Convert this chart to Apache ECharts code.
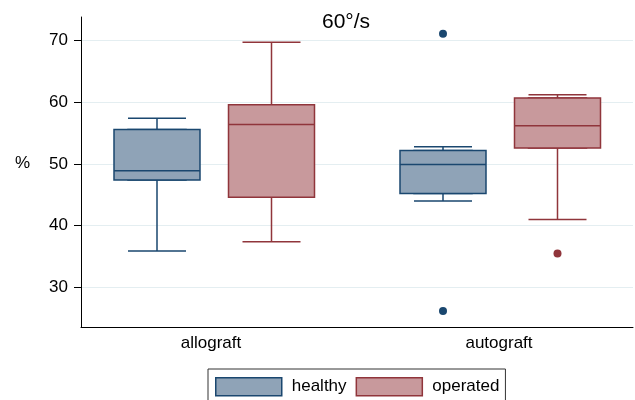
<!DOCTYPE html>
<html>
<head>
<meta charset="utf-8">
<script src="https://cdn.jsdelivr.net/npm/echarts@6/dist/echarts.min.js"></script>
<style>html,body{margin:0;padding:0;background:#fff}#c{width:635px;height:400px}</style>
</head>
<body>
<div id="c"></div>
<script>
// ---- data ----
const categories = ['allograft', 'autograft'];
// [min, Q1, median, Q3, max] per category
const healthy = [
  [35.9, 47.4, 48.9, 55.6, 57.4],
  [44.0, 45.2, 49.9, 52.2, 52.8]
];
const operated = [
  [37.4, 44.6, 56.4, 59.6, 69.7],
  [41.0, 52.6, 56.2, 60.7, 61.2]
];
const healthyOutliers = [['autograft', 71.1], ['autograft', 26.2]];
const operatedOutliers = [['autograft', 35.5]];
const yTicks = [30, 40, 50, 60, 70];
const seriesNames = ['healthy', 'operated'];
const titleText = '60°/s';
const yName = '%';

// ---- style ----
const FONT = 'Liberation Sans, Arial, sans-serif';
const navy = '#1a476f', navyFill = '#8fa3b7';
const maroon = '#90353b', maroonFill = '#c8999c';
const yMin = 23.6, yMax = 73.8;
const TOP = 17, BOTTOM = 73;

// box only (whiskers collapsed onto the box edges)
const boxOnly = d => d.map(v => [v[1], v[1], v[2], v[3], v[3]]);

const hiddenY = gi => ({ gridIndex: gi, type: 'value', min: yMin, max: yMax, show: false });
const hiddenX = gi => ({ gridIndex: gi, type: 'category', data: categories, boundaryGap: false, show: false });

const chart = echarts.init(document.getElementById('c'), null, { renderer: 'canvas' });
chart.setOption({
  animation: false,
  textStyle: { fontFamily: FONT },
  title: {
    text: titleText, left: 322, top: 12, padding: 0,
    textStyle: { fontFamily: FONT, fontSize: 21, fontWeight: 'normal', color: '#000' }
  },
  legend: {
    left: 208, top: 369,
    padding: [8, 6, 8, 7],
    borderColor: '#333', borderWidth: 1,
    icon: 'rect', itemWidth: 66, itemHeight: 18, itemGap: 9,
    textStyle: { fontFamily: FONT, fontSize: 17, color: '#000', padding: [0, 0, 0, 5] },
    data: [
      { name: seriesNames[0], itemStyle: { color: navyFill, borderColor: navy, borderWidth: 1.5 } },
      { name: seriesNames[1], itemStyle: { color: maroonFill, borderColor: maroon, borderWidth: 1.5 } }
    ]
  },
  grid: [
    { left: 81, right: 2, top: TOP, bottom: BOTTOM },          // main frame
    { left: 157, width: 286, top: TOP, bottom: BOTTOM },       // healthy boxes
    { left: 271.5, width: 286, top: TOP, bottom: BOTTOM },     // operated boxes
    { left: 211, width: 288, top: TOP, bottom: BOTTOM }        // category labels
  ],
  xAxis: [
    { gridIndex: 0, type: 'category', data: categories,
      axisLine: { lineStyle: { color: '#000', width: 1 } },
      axisTick: { show: false }, axisLabel: { show: false }, splitLine: { show: false } },
    hiddenX(1), hiddenX(1), hiddenX(2), hiddenX(2),
    { gridIndex: 3, type: 'category', data: categories, boundaryGap: false,
      axisLine: { show: false }, axisTick: { show: false }, splitLine: { show: false },
      axisLabel: { margin: 8, fontSize: 17, color: '#000', fontFamily: FONT } }
  ],
  yAxis: [
    { gridIndex: 0, type: 'value', min: yMin, max: yMax,
      name: yName, nameLocation: 'middle', nameRotate: 0, nameGap: 51,
      nameTextStyle: { fontSize: 17, color: '#000', fontFamily: FONT, verticalAlign: 'bottom' },
      axisLine: { show: true, lineStyle: { color: '#000', width: 1 } },
      axisTick: { show: true, length: 7, customValues: yTicks, lineStyle: { color: '#000' } },
      axisLabel: { customValues: yTicks, margin: 13, fontSize: 17, color: '#000', fontFamily: FONT },
      splitLine: { show: true, lineStyle: { color: '#e4eef1', width: 1 } } },
    hiddenY(1), hiddenY(2), hiddenY(3)
  ],
  series: [
    { name: seriesNames[0], type: 'boxplot', xAxisIndex: 1, yAxisIndex: 1, z: 2,
      data: healthy, boxWidth: [58, 58], emphasis: { disabled: true },
      itemStyle: { color: 'rgba(0,0,0,0)', borderColor: navy, borderWidth: 1.5 } },
    { name: seriesNames[0], type: 'boxplot', xAxisIndex: 2, yAxisIndex: 1, z: 3,
      data: boxOnly(healthy), boxWidth: [86, 86], emphasis: { disabled: true },
      itemStyle: { color: navyFill, borderColor: navy, borderWidth: 1.5 } },
    { name: seriesNames[0], type: 'scatter', xAxisIndex: 1, yAxisIndex: 1, z: 4,
      data: healthyOutliers, symbol: 'circle', symbolSize: 8, emphasis: { disabled: true },
      itemStyle: { color: navy, opacity: 1 } },
    { name: seriesNames[1], type: 'boxplot', xAxisIndex: 3, yAxisIndex: 2, z: 2,
      data: operated, boxWidth: [58, 58], emphasis: { disabled: true },
      itemStyle: { color: 'rgba(0,0,0,0)', borderColor: maroon, borderWidth: 1.5 } },
    { name: seriesNames[1], type: 'boxplot', xAxisIndex: 4, yAxisIndex: 2, z: 3,
      data: boxOnly(operated), boxWidth: [86, 86], emphasis: { disabled: true },
      itemStyle: { color: maroonFill, borderColor: maroon, borderWidth: 1.5 } },
    { name: seriesNames[1], type: 'scatter', xAxisIndex: 3, yAxisIndex: 2, z: 4,
      data: operatedOutliers, symbol: 'circle', symbolSize: 8, emphasis: { disabled: true },
      itemStyle: { color: maroon, opacity: 1 } }
  ]
});
</script>
</body>
</html>
